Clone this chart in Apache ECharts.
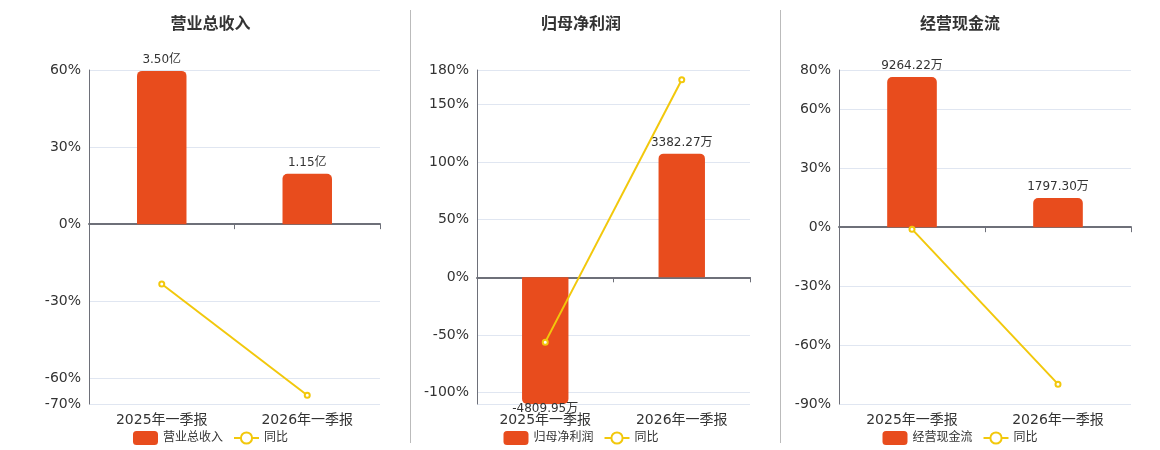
<!DOCTYPE html>
<html>
<head>
<meta charset="utf-8">
<script src="https://cdn.jsdelivr.net/npm/echarts@6/dist/echarts.min.js"></script>
<style>
  html, body { margin: 0; padding: 0; background: #fff; }
  body { position: relative; width: 1160px; height: 450px; overflow: hidden; }
  .panel { position: absolute; top: 0; height: 450px; }
  .divider { position: absolute; top: 10px; width: 1px; height: 433px; background: #bbb; }
</style>
</head>
<body>
<div id="p1" class="panel" style="left:0;width:421px"></div>
<div class="divider" style="left:410px"></div>
<div id="p2" class="panel" style="left:411px;width:340px"></div>
<div class="divider" style="left:780px"></div>
<div id="p3" class="panel" style="left:781px;width:358px"></div>
<script>
// 报告期
const categories = ['2025年一季报', '2026年一季报']

// 营业总收入（亿）及同比（%）
const revenue = [3.50, 1.15]
const revenueYoY = [-23.3, -66.6]

// 归母净利润（万）及同比（%）
const netProfit = [-4809.95, 3382.27]
const netProfitYoY = [-56.3, 171.5]

// 经营现金流（万）及同比（%）
const cashFlow = [9264.22, 1797.30]
const cashFlowYoY = [-1.0, -79.9]

// 各面板同比轴范围
const pctRange1 = [-70, 60]
const pctRange2 = [-110, 180]
const pctRange3 = [-90, 80]

const BAR_COLOR = '#e84c1d'
const LINE_COLOR = '#f2c80c'
const AXIS_COLOR = '#6e7079'
const FONT = "'DejaVu Sans', 'Noto Sans CJK SC', sans-serif"

/**
 * 生成单个面板的配置
 */
const buildOption = (cfg) => {
  const barData = cfg.values.map(v => ({
    value: v,
    itemStyle: { borderRadius: v >= 0 ? [5, 5, 0, 0] : [0, 0, 5, 5] },
    label: v >= 0 ? { position: 'top' } : { position: 'bottom', distance: -1 }
  }))
  // 柱状轴与百分比轴零点对齐
  const barMin = cfg.barMax * cfg.pctRange[0] / cfg.pctRange[1]

  return {
    animation: false,
    textStyle: { fontFamily: FONT },
    title: {
      text: cfg.title,
      left: 'center',
      top: 12,
      textStyle: { fontSize: 16, fontWeight: 'bold', color: '#333', fontFamily: FONT }
    },
    legend: {
      data: [cfg.name, '同比'],
      left: 'center',
      top: 426,
      itemWidth: 25,
      itemHeight: 14,
      itemGap: 10,
      textStyle: { fontSize: 12, color: '#333', fontFamily: FONT }
    },
    grid: cfg.grid,
    xAxis: [
      {
        type: 'category',
        data: categories,
        axisLine: { onZero: true, lineStyle: { color: AXIS_COLOR, width: 2 } },
        axisTick: { show: true, length: 5, lineStyle: { color: AXIS_COLOR } },
        axisLabel: { show: false }
      },
      {
        type: 'category',
        data: categories,
        position: 'bottom',
        axisLine: { show: false, onZero: false },
        axisTick: { show: false },
        axisLabel: { fontSize: 14, color: '#333', margin: 9, fontFamily: FONT }
      }
    ],
    yAxis: [
      {
        type: 'value',
        min: cfg.pctRange[0],
        max: cfg.pctRange[1],
        axisLine: { show: true, lineStyle: { color: AXIS_COLOR } },
        axisTick: { show: false },
        axisLabel: { formatter: '{value}%', fontSize: 14, color: '#333', fontFamily: FONT },
        splitLine: { lineStyle: { color: '#e0e6f1' } }
      },
      {
        type: 'value',
        show: false,
        min: barMin,
        max: cfg.barMax,
        splitLine: { show: false }
      }
    ],
    series: [
      {
        name: cfg.name,
        type: 'bar',
        yAxisIndex: 1,
        barWidth: '34%',
        itemStyle: { color: BAR_COLOR },
        label: {
          show: true,
          fontSize: 12,
          color: '#333',
          fontFamily: FONT,
          formatter: p => p.value.toFixed(2) + cfg.unit
        },
        data: barData
      },
      {
        name: '同比',
        type: 'line',
        yAxisIndex: 0,
        z: 5,
        symbol: 'emptyCircle',
        symbolSize: 5,
        itemStyle: { color: LINE_COLOR },
        lineStyle: { color: LINE_COLOR, width: 2 },
        data: cfg.yoy
      }
    ]
  }
}

const panels = [
  {
    el: 'p1', title: '营业总收入', name: '营业总收入', unit: '亿',
    values: revenue, yoy: revenueYoY, pctRange: pctRange1, barMax: 3.52,
    grid: { left: 89, right: 41, top: 70, bottom: 46 }
  },
  {
    el: 'p2', title: '归母净利润', name: '归母净利润', unit: '万',
    values: netProfit, yoy: netProfitYoY, pctRange: pctRange2, barMax: 5670,
    grid: { left: 66, right: 1, top: 70, bottom: 46 }
  },
  {
    el: 'p3', title: '经营现金流', name: '经营现金流', unit: '万',
    values: cashFlow, yoy: cashFlowYoY, pctRange: pctRange3, barMax: 9700,
    grid: { left: 58, right: 8, top: 70, bottom: 46 }
  }
]

panels.forEach(cfg => {
  const chart = echarts.init(document.getElementById(cfg.el))
  chart.setOption(buildOption(cfg))
})
</script>
</body>
</html>
